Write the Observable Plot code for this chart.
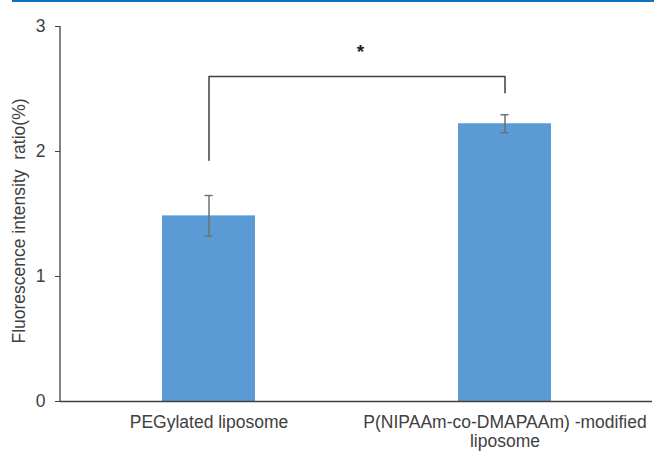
<!DOCTYPE html>
<html>
<head>
<meta charset="utf-8">
<script src="https://cdn.jsdelivr.net/npm/d3@7"></script>
<script src="https://cdn.jsdelivr.net/npm/@observablehq/plot@0.6"></script>
<style>
  html, body { margin: 0; padding: 0; background: #fff; }
  #wrap { position: relative; width: 654px; height: 451px; overflow: hidden; }
  #topline { position: absolute; left: 12px; top: 0; width: 642px; height: 2px; background: #0b72bf; }
  svg { display: block; }
</style>
</head>
<body>
<div id="wrap"><div id="topline"></div></div>
<script>
// ---- data ----
const categories = ["PEGylated liposome", "P(NIPAAm-co-DMAPAAm)-modified liposome"];
const tickLabels = ["PEGylated liposome", "P(NIPAAm-co-DMAPAAm) -modified\nliposome"];
const means = [1.485, 2.222];
const errors = [0.163, 0.072];
const yTicks = [0, 1, 2, 3];
const yLabel = "Fluorescence intensity  ratio(%)";
// significance bracket: from bar 1 to bar 2
const bracketTop = 2.60;
const bracketLeftEnd = 1.93;
const bracketRightEnd = 2.47;
const starY = 2.80;
const starText = "*";

const bars = categories.map((c, i) => ({cat: c, label: tickLabels[i], mean: means[i], lo: means[i] - errors[i], hi: means[i] + errors[i]}));
const bracket = [
  {cat: categories[0], y: bracketLeftEnd},
  {cat: categories[0], y: bracketTop},
  {cat: categories[1], y: bracketTop},
  {cat: categories[1], y: bracketRightEnd}
];

const font = "'Liberation Sans', Arial, sans-serif";
const textColor = "#404040";

// y-axis line drawn via the y scale
function yAxisLine() {
  const args = Array.from(arguments);
  const scales = args.find(a => a && typeof a.y === "function");
  const dims = args.find(a => a && typeof a.marginLeft === "number");
  const ns = "http://www.w3.org/2000/svg";
  const line = document.createElementNS(ns, "line");
  const x = dims.marginLeft;
  line.setAttribute("x1", x); line.setAttribute("x2", x);
  line.setAttribute("y1", scales.y(0)); line.setAttribute("y2", scales.y(3));
  line.setAttribute("stroke", "#404040");
  line.setAttribute("stroke-width", 1.3);
  return line;
}

const plot = Plot.plot({
  width: 654,
  height: 451,
  marginLeft: 60,
  marginRight: 2,
  marginTop: 26,
  marginBottom: 50,
  style: {fontFamily: font, fontSize: "17px", color: textColor, background: "#fff"},
  x: {domain: categories, paddingInner: 0.686, paddingOuter: 0.343, axis: null},
  y: {domain: [0, 3], axis: null},
  marks: [
    Plot.barY(bars, {x: "cat", y: "mean", fill: "#5b9bd5"}),
    Plot.ruleX(bars, {x: "cat", y1: "lo", y2: "hi", stroke: "#707070", strokeWidth: 1.5}),
    Plot.tickY(bars, {x: "cat", y: "lo", stroke: "#707070", strokeWidth: 1.5, insetLeft: 42.5, insetRight: 42.5}),
    Plot.tickY(bars, {x: "cat", y: "hi", stroke: "#707070", strokeWidth: 1.5, insetLeft: 42.5, insetRight: 42.5}),
    Plot.line(bracket, {x: "cat", y: "y", stroke: "#404040", strokeWidth: 1.5}),
    Plot.text([starText], {y: starY, text: d => d, dx: 4, fontSize: 19, fontWeight: "bold", fill: "#202020"}),
    Plot.axisY({ticks: yTicks, tickFormat: d3.format("d"), tickSize: 5, tickPadding: 10, stroke: "#404040", fontSize: 17.5, fill: textColor, label: null}),
    Plot.ruleY([0], {stroke: "#404040", strokeWidth: 1.3}),
    yAxisLine,
    Plot.text(bars, {x: "cat", y: 0, text: "label", lineAnchor: "top", dy: 13, fontSize: 17.5, lineHeight: 1.08, fill: textColor}),
    Plot.text([yLabel], {frameAnchor: "left", textAnchor: "middle", dx: -41, dy: 7, rotate: -90, fontSize: 17.5, fill: textColor})
  ]
});
document.getElementById("wrap").appendChild(plot);
</script>
</body>
</html>
